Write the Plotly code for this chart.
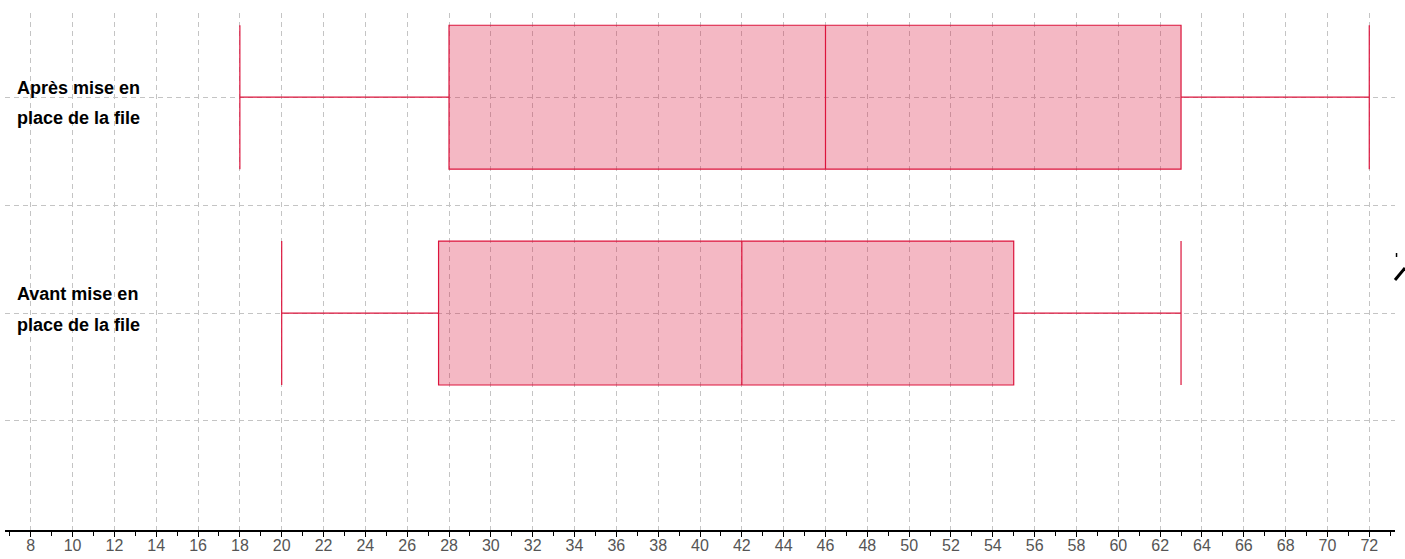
import plotly.graph_objects as go

# Data
label_lines = [["Après mise en", "place de la file"], ["Avant mise en", "place de la file"]]
positions = [4, 2]
mins = [18, 20]
q1s = [28, 27.5]
medians = [46, 42]
q3s = [63, 55]
maxs = [72, 63]
x_ticks = list(range(8, 73, 2))

# vertical pixel offsets of each label line relative to its box centre
label_shifts = [[9, -21], [19, -12]]

LINE = "rgb(220,20,60)"
FILL = "rgba(220,20,60,0.3)"
GRID = "#c4c4c4"

fig = go.Figure()
for lines, p, mn, a, m, b, mx, shifts in zip(label_lines, positions, mins, q1s, medians, q3s, maxs, label_shifts):
    fig.add_trace(go.Box(
        y=[p], q1=[a], median=[m], q3=[b], lowerfence=[mn], upperfence=[mx],
        orientation="h", width=4 / 3, whiskerwidth=1,
        line=dict(color=LINE, width=1.2), fillcolor=FILL,
        boxpoints=False, name=" ".join(lines), showlegend=False,
        hoverinfo="skip",
    ))
    for txt, s in zip(lines, shifts):
        fig.add_annotation(
            xref="paper", x=0.0072, xanchor="left",
            yref="y", y=p, yanchor="middle", yshift=s,
            text=txt, showarrow=False, align="left",
            font=dict(family="Liberation Sans, Arial, sans-serif", size=18, color="black", weight="bold"),
        )

# stray arrow fragment at the right edge (decoration from the source image)
fig.add_shape(type="line", xref="paper", yref="paper",
              x0=1.0, y0=(530 - 280) / 517, x1=1.0072, y1=(530 - 268) / 517,
              line=dict(color="black", width=3))
fig.add_shape(type="line", xref="paper", yref="paper",
              x0=1.0011, y0=(530 - 257) / 517, x1=1.0011, y1=(530 - 253) / 517,
              line=dict(color="black", width=1.5))

fig.update_layout(
    width=1405, height=566,
    margin=dict(l=5, r=10, t=13, b=36),
    plot_bgcolor="white", paper_bgcolor="white",
    boxmode="overlay",
    xaxis=dict(
        range=[6.77, 73.23], tickvals=x_ticks, ticktext=[str(v) for v in x_ticks],
        showline=True, linecolor="black", linewidth=1.5,
        ticks="outside", ticklen=5, tickcolor="black", tickwidth=1,
        ticklabelstandoff=-5,
        showgrid=True, gridcolor=GRID, gridwidth=1, griddash="5px,4px",
        zeroline=False,
        minor=dict(dtick=1, tick0=7, ticks="outside", ticklen=4, tickcolor="black", showgrid=False),
        tickfont=dict(family="Liberation Sans Narrow, Arial Narrow, Liberation Sans, Arial", size=16, color="#555555"),
    ),
    yaxis=dict(
        range=[-0.01, 4.78], tickvals=[1, 2, 3, 4], showticklabels=False,
        showgrid=True, gridcolor=GRID, gridwidth=1, griddash="5px,4px",
        zeroline=False, showline=False, ticks="",
    ),
)

fig.write_html("out.html", config={"displayModeBar": False},
               post_script="document.body.style.margin='0px';document.body.style.overflow='hidden';")
